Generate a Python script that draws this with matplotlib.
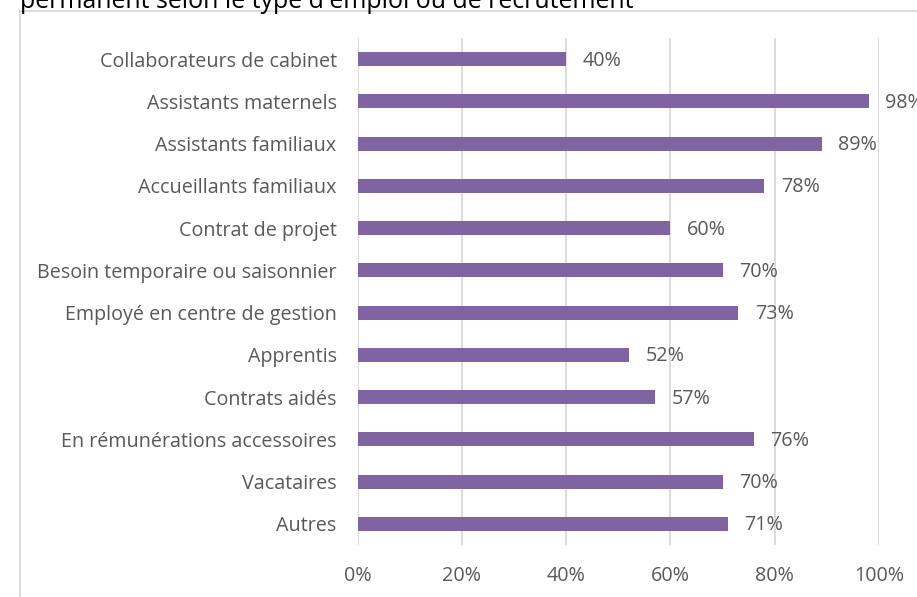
import matplotlib
matplotlib.use("Agg")
import matplotlib.pyplot as plt
from matplotlib.lines import Line2D

categories = [
    "Collaborateurs de cabinet",
    "Assistants maternels",
    "Assistants familiaux",
    "Accueillants familiaux",
    "Contrat de projet",
    "Besoin temporaire ou saisonnier",
    "Employé en centre de gestion",
    "Apprentis",
    "Contrats aidés",
    "En rémunérations accessoires",
    "Vacataires",
    "Autres",
]
values = [40, 98, 89, 78, 60, 70, 73, 52, 57, 76, 70, 71]
x_ticks = [0, 20, 40, 60, 80, 100]
title = "permanent selon le type d'emploi ou de recrutement"

W, H = 917, 597
fig = plt.figure(figsize=(W / 100, H / 100), dpi=100)
plt.rcParams['font.family'] = ['Open Sans', 'DejaVu Sans']

text_gray = "#595959"
grid_gray = "#D9D9D9"
bar_color = "#8064A2"
fs = 14.2

# plot area in pixel coordinates
left, right, top, bottom = 357.5, 879, 38, 545
ax = fig.add_axes([left / W, 1 - bottom / H, (right - left) / W, (bottom - top) / H])

y = list(range(len(categories)))
ax.barh(y, values, height=0.33, color=bar_color, zorder=3)
ax.set_ylim(len(categories) - 0.5, -0.5)
ax.set_xlim(0, 100)
ax.set_yticks(y)
ax.set_yticklabels(categories, fontsize=fs, color=text_gray)
ax.set_xticks(x_ticks)
ax.set_xticklabels([f"{t}%" for t in x_ticks], fontsize=fs, color=text_gray)
ax.tick_params(axis="both", length=0)
ax.tick_params(axis="y", pad=15)
ax.tick_params(axis="x", pad=15)
ax.grid(axis="x", color=grid_gray, linewidth=1.3, zorder=0)
for s in ax.spines.values():
    s.set_visible(False)

for yi, v in zip(y, values):
    ax.annotate(f"{v}%", (v, yi), xytext=(12, -1), textcoords="offset points",
                va="center", ha="left", fontsize=fs, color=text_gray,
                annotation_clip=False)

# chart frame and title
fig.add_artist(Line2D([20 / W, 20 / W], [0, 1 - 10.5 / H], color=grid_gray,
                      linewidth=1.3, transform=fig.transFigure))
fig.add_artist(Line2D([20 / W, 1], [1 - 10.5 / H, 1 - 10.5 / H], color=grid_gray,
                      linewidth=1.3, transform=fig.transFigure))
fig.text(20 / W, 1 - 7.5 / H, title, fontsize=17.9, color="black",
         ha="left", va="baseline")

fig.savefig("out.png", dpi=100)
